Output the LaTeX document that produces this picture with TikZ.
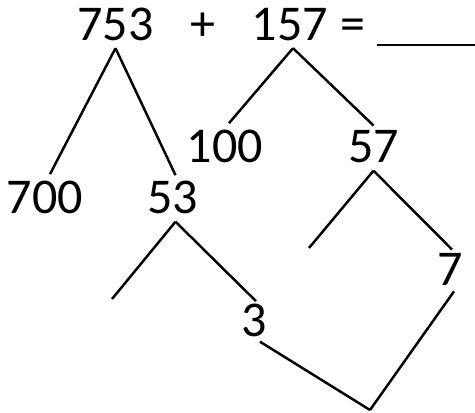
\documentclass[tikz,border=0pt]{standalone}
\usepackage{fontspec}
\setmainfont{Carlito}
\usepackage{tikz}

\begin{document}
\begin{tikzpicture}[x=0.02cm,y=-0.02cm]
		\tikzset{num/.style={inner sep=0pt,anchor=base,font=\fontsize{28.5}{32}\selectfont},
			br/.style={black,line width=1.4pt}}
		\useasboundingbox (0,0) rectangle (475,412);
		\node (n753) at (115.5,40.5) [num] {753};
		\node (plus) at (203,40.5) [num] {+};
		\node (n157) at (290,40.5) [num] {157};
		\node (eq) at (352.5,40.5) [num] {=};
		\node (n100) at (225,162) [num] {100};
		\node (n57) at (373.5,162) [num] {57};
		\node (n700) at (45,213) [num] {700};
		\node (n53) at (172.5,213) [num] {53};
		\node (n7) at (450,285) [num] {7};
		\node (n3) at (254,336) [num] {3};
		\coordinate (b1) at (377,45);
		\coordinate (b2) at (475,45);
		\coordinate (e57) at (309,248);
		\coordinate (e53) at (112,299);
		\coordinate (c37) at (370,410);
		
		\path
		(b1) edge [br] (b2)
		([shift={(0,7)}]n753.south) edge [br] ([shift={(5,-6)}]n700.north)
		([shift={(0,7)}]n753.south) edge [br] ([shift={(3,-5)}]n53.north)
		([shift={(3,7)}]n157.south) edge [br] ([shift={(4,-6)}]n100.north)
		([shift={(3,7)}]n157.south) edge [br] ([shift={(0,-4)}]n57.north)
		([shift={(0,8)}]n57.south) edge [br] (e57)
		([shift={(0,8)}]n57.south) edge [br] ([shift={(2,-3)}]n7.north)
		([shift={(3,8)}]n53.south) edge [br] (e53)
		([shift={(3,8)}]n53.south) edge [br] ([shift={(2,-2)}]n3.north)
		([shift={(6,5)}]n3.south) edge [br] (c37)
		(c37) edge [br] ([shift={(4,6)}]n7.south);
	\end{tikzpicture}
\end{document}
